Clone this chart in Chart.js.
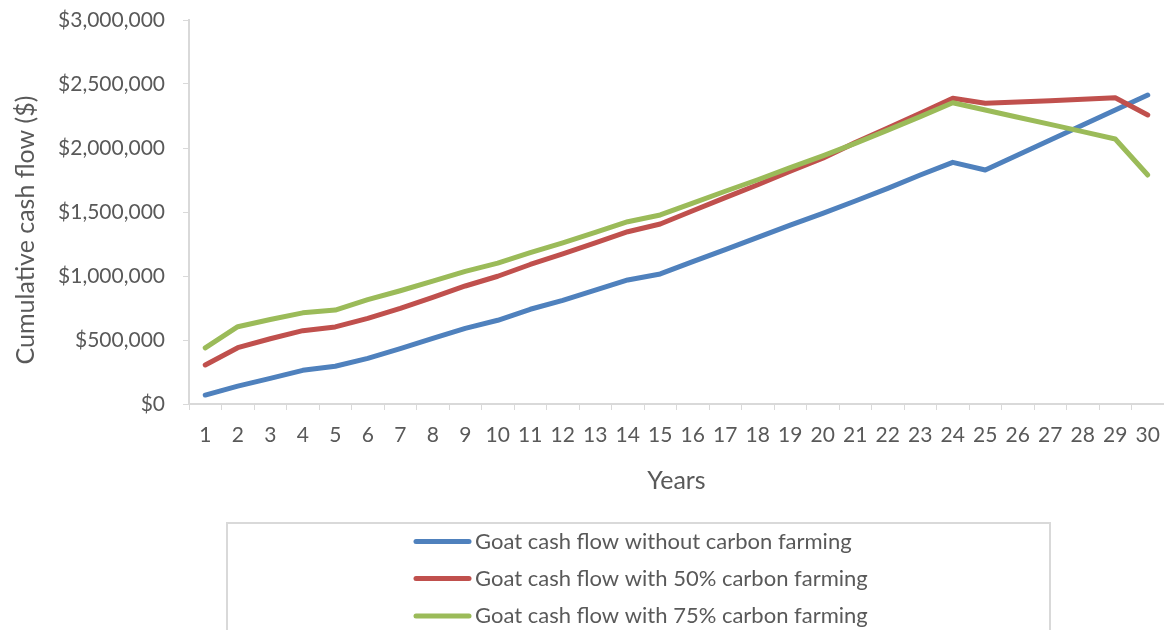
<!DOCTYPE html>
<html>
<head>
<meta charset="utf-8">
<script src="https://cdn.jsdelivr.net/npm/chart.js@4/dist/chart.umd.min.js"></script>
<style>
  html, body { margin: 0; padding: 0; background: #ffffff; overflow: hidden; }
  #wrap { width: 1164px; height: 630px; position: relative; }
</style>
</head>
<body>
<div id="wrap"><canvas id="c"></canvas></div>
<script>
// Years on the horizontal axis
const years = ['1','2','3','4','5','6','7','8','9','10','11','12','13','14','15',
               '16','17','18','19','20','21','22','23','24','25','26','27','28','29','30'];

// Cumulative cash flow ($) per year
const goatNoCarbon = [70000, 140000, 200000, 263000, 295000, 357000, 432000, 513000, 591000, 654000,
                      740000, 810000, 889000, 969000, 1016000, 1112000, 1206000, 1302000, 1398000, 1490000,
                      1586000, 1685000, 1789000, 1888000, 1828000, 1945000, 2062000, 2180000, 2297000, 2414000];
const goatCarbon50 = [305000, 440000, 510000, 573000, 602000, 669000, 747000, 833000, 922000, 998000,
                      1090000, 1172000, 1258000, 1346000, 1406000, 1510000, 1612000, 1713000, 1818000, 1920000,
                      2042000, 2156000, 2271000, 2388000, 2349000, 2359000, 2370000, 2380000, 2393000, 2258000];
const goatCarbon75 = [438000, 604000, 660000, 712000, 734000, 815000, 885000, 960000, 1036000, 1100000,
                      1182000, 1259000, 1341000, 1424000, 1477000, 1570000, 1662000, 1752000, 1846000, 1938000,
                      2036000, 2140000, 2245000, 2354000, 2297000, 2240000, 2185000, 2128000, 2070000, 1789000];

const seriesNames = ['Goat cash flow without carbon farming',
                     'Goat cash flow with 50% carbon farming',
                     'Goat cash flow with 75% carbon farming'];

// Value axis ticks
const yTicks = [0, 500000, 1000000, 1500000, 2000000, 2500000, 3000000];

const yTitle = 'Cumulative cash flow ($)';
const xTitle = 'Years';

const FONT = 'Lato, "Open Sans", sans-serif';
const TEXT = '#595959';
const AXIS = '#d9d9d9';

const money = v => '$' + Number(v).toLocaleString('en-US');

// Rotated value-axis title and a boxed legend below the axis
const decorations = {
  id: 'decorations',
  afterDraw(chart) {
    const ctx = chart.ctx;
    ctx.save();
    ctx.fillStyle = TEXT;
    ctx.font = '25px ' + FONT;
    ctx.textAlign = 'center';
    ctx.textBaseline = 'middle';
    ctx.translate(26, 230);
    ctx.rotate(-Math.PI / 2);
    ctx.fillText(yTitle, 0, 0);
    ctx.restore();

    ctx.save();
    ctx.strokeStyle = AXIS;
    ctx.lineWidth = 2;
    ctx.strokeRect(227, 523, 823, 140);
    const rows = [541.5, 578.5, 616];
    chart.data.datasets.forEach((ds, i) => {
      const y = rows[i];
      ctx.beginPath();
      ctx.lineCap = 'round';
      ctx.lineWidth = 5;
      ctx.strokeStyle = ds.borderColor;
      ctx.moveTo(416, y);
      ctx.lineTo(469, y);
      ctx.stroke();
      ctx.fillStyle = TEXT;
      ctx.font = '22px ' + FONT;
      ctx.textBaseline = 'middle';
      ctx.textAlign = 'left';
      ctx.fillText(ds.label, 475, y);
    });
    ctx.restore();
  }
};

const mkSeries = (label, data, color, order) => ({
  label, data, order,
  borderColor: color,
  backgroundColor: color,
  borderWidth: 5,
  borderCapStyle: 'round',
  borderJoinStyle: 'round',
  pointRadius: 0,
  tension: 0,
  fill: false
});

new Chart(document.getElementById('c'), {
  type: 'line',
  data: {
    labels: years,
    datasets: [
      mkSeries(seriesNames[0], goatNoCarbon, '#4f81bd', 3),
      mkSeries(seriesNames[1], goatCarbon50, '#c0504d', 2),
      mkSeries(seriesNames[2], goatCarbon75, '#9bbb59', 1)
    ]
  },
  options: {
    responsive: true,
    maintainAspectRatio: false,
    animation: false,
    layout: { padding: { top: 20, right: -3, bottom: 130, left: 0 } },
    plugins: { legend: { display: false }, tooltip: { enabled: false } },
    scales: {
      x: {
        offset: true,
        grid: { offset: true, drawOnChartArea: false, drawTicks: true, tickLength: 6, color: AXIS, lineWidth: 1 },
        border: { color: AXIS, width: 2 },
        ticks: { color: TEXT, font: { family: FONT, size: 21 }, padding: 13, maxRotation: 0, autoSkip: false },
        title: { display: true, text: xTitle, color: TEXT, font: { family: FONT, size: 25 }, padding: { top: 0, bottom: 4 } },
        afterFit(s) { s.height = 96; s.paddingLeft = 0; s.paddingRight = 0; }
      },
      y: {
        min: 0,
        max: 3000000,
        afterBuildTicks(s) { s.ticks = yTicks.map(v => ({ value: v })); },
        grid: { drawOnChartArea: false, drawTicks: true, tickLength: 6, color: AXIS, lineWidth: 1 },
        border: { color: AXIS, width: 2 },
        ticks: { color: TEXT, font: { family: FONT, size: 21 }, padding: 18, callback: v => money(v) },
        afterFit(s) { s.width = 189; s.paddingTop = 0; s.paddingBottom = 0; }
      }
    }
  },
  plugins: [decorations]
});
</script>
</body>
</html>
